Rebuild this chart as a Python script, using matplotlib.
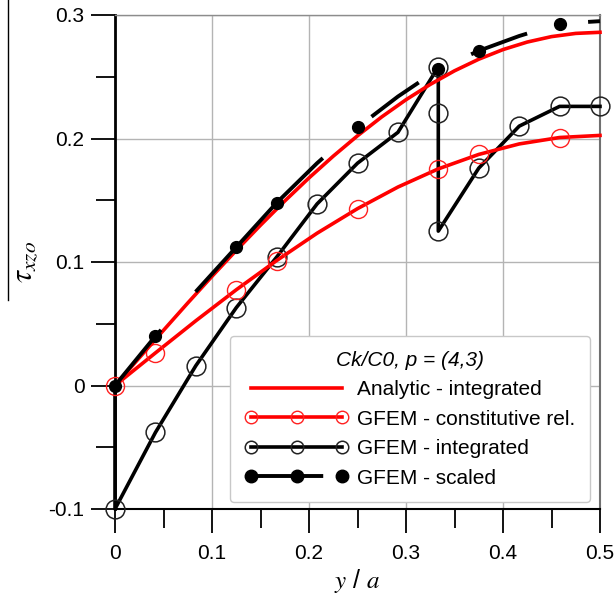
import matplotlib
matplotlib.use('Agg')
import matplotlib.pyplot as plt
from matplotlib.lines import Line2D
from matplotlib.ticker import MultipleLocator, FormatStrFormatter

# Data
y_fine = [0, 0.025, 0.05, 0.075, 0.1, 0.125, 0.15, 0.175, 0.2, 0.225, 0.25,
          0.275, 0.3, 0.325, 0.35, 0.375, 0.4, 0.425, 0.45, 0.475, 0.5]
analytic = [0, 0.0224, 0.0447, 0.0668, 0.0884, 0.1094, 0.1298, 0.1494,
            0.1681, 0.1857, 0.2022, 0.2175, 0.2314, 0.2438, 0.2548, 0.2642,
            0.2720, 0.2781, 0.2825, 0.2851, 0.286]

y_nodes = [0, 0.0417, 0.0833, 0.125, 0.1667, 0.2083, 0.25, 0.2917, 0.3333,
           0.375, 0.4167, 0.4583, 0.5]
constitutive = [0, 0.0264, 0.0524, 0.0775, 0.1012, 0.1233, 0.1432, 0.1607,
                0.1754, 0.1871, 0.1956, 0.2008, 0.2025]
scaled = [0, 0.040, 0.076, 0.112, 0.148, 0.180, 0.209, 0.234, 0.256, 0.271,
          0.283, 0.293, 0.295]
marked = [0, 1, 3, 4, 6, 8, 9, 11]

y_int = [0, 0, 0.0417, 0.0833, 0.125, 0.1667, 0.2083, 0.25, 0.2917, 0.3333,
         0.3333, 0.3333, 0.375, 0.4167, 0.4583, 0.5]
integrated = [0, -0.1, -0.038, 0.016, 0.063, 0.104, 0.147, 0.180, 0.205,
              0.258, 0.221, 0.125, 0.176, 0.210, 0.226, 0.226]

labels = ['Analytic - integrated', 'GFEM - constitutive rel.',
          'GFEM - integrated', 'GFEM - scaled']
legend_title = 'Ck/C0, p = (4,3)'


def main():
    plt.rcParams['font.family'] = ['Liberation Sans', 'DejaVu Sans']
    plt.rcParams['mathtext.fontset'] = 'stix'
    plt.rcParams['axes.unicode_minus'] = False
    plt.rcParams['lines.scale_dashes'] = False

    fig = plt.figure(figsize=(6.16, 6.06), dpi=100)
    ax = fig.add_axes([115 / 616, 1 - 509 / 606, 485 / 616, 494 / 606])

    # irregular long dashes of the scaled curve (points)
    dash = (0, (52, 37, 133, 46, 42, 43, 43, 45, 43, 43))

    int_style = dict(color='black', lw=2.6, marker='o', ms=13.5,
                     mfc='none', mec='#222222', mew=1.1)
    con_style = dict(color='#ff0000', lw=2.6, marker='o', ms=13,
                     mfc='none', mec='#ff2020', mew=1.0)
    ana_style = dict(color='#ff0000', lw=2.6)
    sca_style = dict(color='black', lw=2.8, marker='o', ms=8.5,
                     mfc='black', mec='black', ls=dash)

    ax.plot(y_int, integrated, markevery=list(range(1, len(y_int))),
            zorder=3, clip_on=False, **int_style)
    ax.plot(y_nodes, constitutive, markevery=marked, zorder=4,
            clip_on=False, **con_style)
    ax.plot(y_fine, analytic, zorder=5, clip_on=False, **ana_style)
    ax.plot(y_nodes, scaled, markevery=marked, zorder=6, clip_on=False,
            **sca_style)

    ax.set_xlim(0, 0.5)
    ax.set_ylim(-0.1, 0.3)
    ax.xaxis.set_major_locator(MultipleLocator(0.1))
    ax.xaxis.set_minor_locator(MultipleLocator(0.05))
    ax.yaxis.set_major_locator(MultipleLocator(0.1))
    ax.yaxis.set_minor_locator(MultipleLocator(0.05))
    ax.xaxis.set_major_formatter(FormatStrFormatter('%g'))
    ax.yaxis.set_major_formatter(FormatStrFormatter('%g'))
    ax.tick_params(which='major', direction='out', length=17, width=1.3,
                   labelsize=15)
    ax.tick_params(which='minor', direction='out', length=14, width=1.3)
    ax.tick_params(axis='x', which='major', pad=8)
    ax.tick_params(axis='y', which='major', pad=5)
    ax.grid(True, which='major', color='#b4b4b4', lw=1)

    ax.spines['left'].set_linewidth(2)
    ax.spines['bottom'].set_linewidth(1.5)
    ax.spines['top'].set_color('#8c8c8c')
    ax.spines['top'].set_linewidth(1)
    ax.spines['right'].set_color('#707070')
    ax.spines['right'].set_linewidth(1.5)

    ax.set_xlabel('$y$ / $a$', fontsize=18, labelpad=3)
    ax.set_ylabel(r'$\tau_{xzo}$', fontsize=22, labelpad=6)
    # long overline of the tau label
    fig.add_artist(Line2D([8 / 616, 8 / 616], [1, 1 - 300 / 606],
                          transform=fig.transFigure, color='black', lw=1))

    leg_int = dict(int_style, ms=9)
    leg_con = dict(con_style, ms=9)
    leg_sca = dict(sca_style, ms=9)
    handles = [Line2D([], [], **ana_style), Line2D([], [], **leg_con),
               Line2D([], [], **leg_int), Line2D([], [], **leg_sca)]
    leg = ax.legend(handles, labels, title=legend_title, loc='lower right',
                    bbox_to_anchor=(0.979, 0.014), borderaxespad=0,
                    fontsize=15, title_fontproperties={'size': 15,
                                                       'style': 'italic'},
                    numpoints=3, handlelength=5.0, handletextpad=0.4,
                    labelspacing=0.5, borderpad=0.7, fancybox=True,
                    framealpha=1, edgecolor='#c8c8c8')
    leg.get_frame().set_linewidth(1)
    leg.set_zorder(10)

    fig.savefig('out.png', dpi=100)


if __name__ == '__main__':
    main()
